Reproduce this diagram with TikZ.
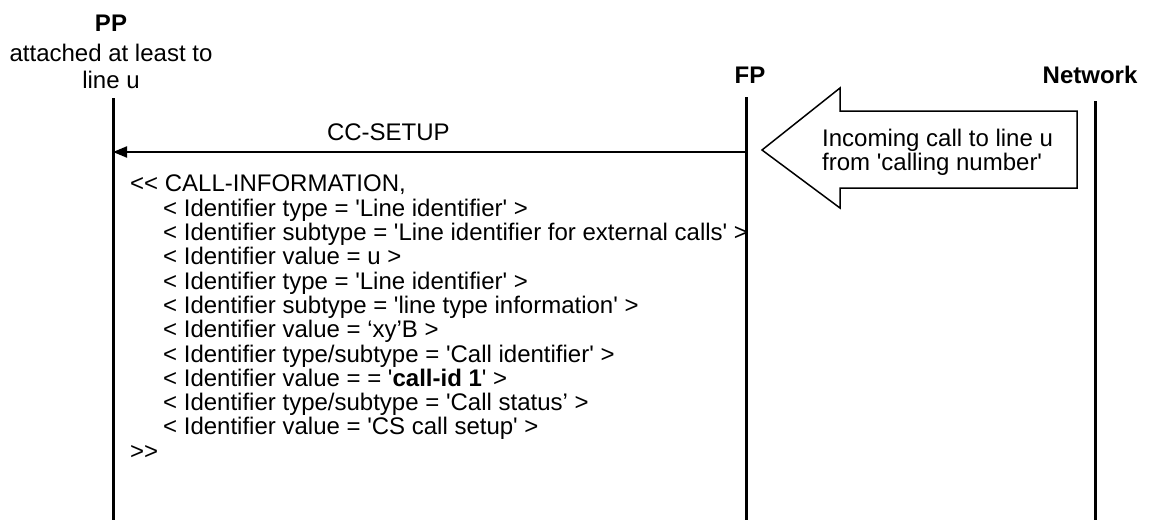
\documentclass[tikz,border=0pt]{standalone}
\usepackage{fontspec}
\newfontfamily\arialfont{Liberation Sans}
\usetikzlibrary{arrows.meta}
\newcommand\ind{\hspace*{33pt}}

\begin{document}
\begin{tikzpicture}[x=1pt, y=-1pt,
  every node/.style={font=\arialfont\fontsize{24}{27}\selectfont, inner sep=0pt},
  entity/.style={font=\arialfont\bfseries\fontsize{24}{27}\selectfont},
  lifeline/.style={line width=3pt},
  msgline/.style={line width=2pt, -{Triangle[length=14pt, width=11pt]}},
  hint/.style={line width=1.5pt, line join=miter}
]
\useasboundingbox (0,0) rectangle (1150,520);

% entities
\node[entity] (pp) at (111,23) {PP};
\node[align=center] (ppnote) at (111,66) {attached at least to\\line u};
\node[entity] (fp) at (750,75) {FP};
\node[entity] (nw) at (1090,75) {Network};

% lifelines
\coordinate (pptop) at (113,98);
\coordinate (ppbot) at (113,520);
\coordinate (fptop) at (746,97);
\coordinate (fpbot) at (746,520);
\coordinate (nwtop) at (1095,101);
\coordinate (nwbot) at (1095,520);
\draw[lifeline] (pptop) -- (ppbot);
\draw[lifeline] (fptop) -- (fpbot);
\draw[lifeline] (nwtop) -- (nwbot);

% incoming call from the network
\draw[hint] (762,150) -- (840,88) -- (840,111) -- (1077,111) -- (1077,188)
  -- (840,188) -- (840,208) -- cycle;
\node[align=left, anchor=west, font=\arialfont\fontsize{24}{24}\selectfont] (incoming) at (822,152)
  {Incoming call to line u\\from 'calling number'};

% CC-SETUP
\coordinate (fpmsg) at (746,152);
\coordinate (ppmsg) at (113,152);
\draw[msgline] (fpmsg) -- (ppmsg) node[pos=0.565, above=10pt] (setup) {CC-SETUP};

\node[anchor=north west, align=left, font=\arialfont\fontsize{24}{24.3}\selectfont] (msg) at (130,175) {%
<< CALL-INFORMATION,\\
\ind< Identifier type = 'Line identifier' >\\
\ind< Identifier subtype = 'Line identifier for external calls' >\\
\ind< Identifier value = u >\\
\ind< Identifier type = 'Line identifier' >\\
\ind< Identifier subtype = 'line type information' >\\
\ind< Identifier value = ‘xy’B >\\
\ind< Identifier type/subtype = 'Call identifier' >\\
\ind< Identifier value = = '\textbf{call-id 1}' >\\
\ind< Identifier type/subtype = 'Call status’ >\\
\ind< Identifier value = 'CS call setup' >\\
>>};
\end{tikzpicture}
\end{document}
